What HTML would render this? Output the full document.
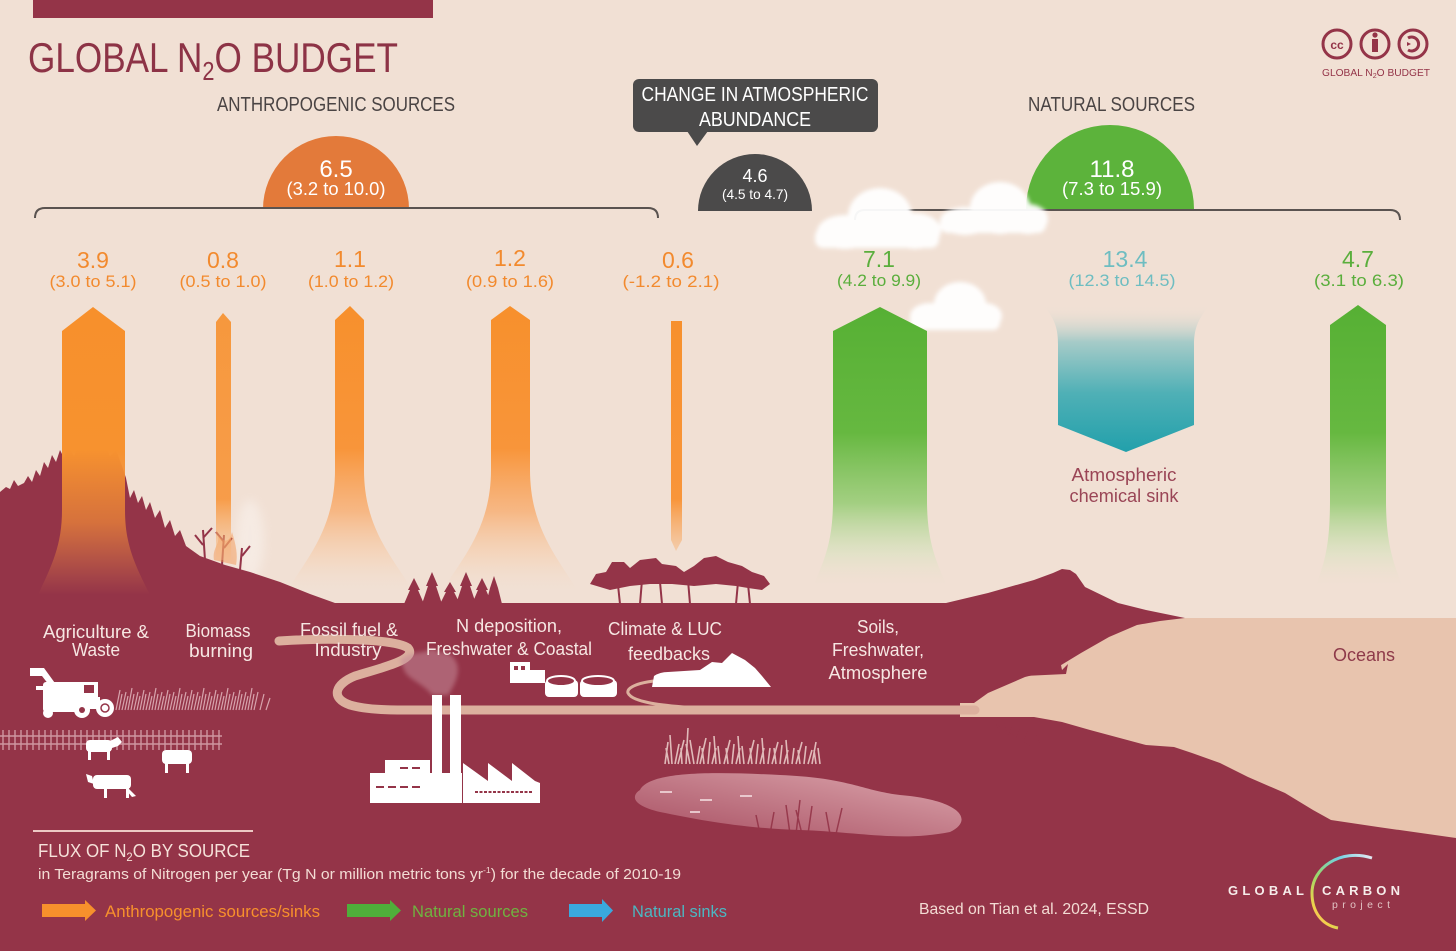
<!DOCTYPE html>
<html><head><meta charset="utf-8"><style>
html,body{margin:0;padding:0;background:#f1e0d4;}
svg{display:block;}
text{font-family:"Liberation Sans",sans-serif;}
</style></head><body>
<svg width="1456" height="951" viewBox="0 0 1456 951" xmlns="http://www.w3.org/2000/svg">
<defs>
  <linearGradient id="gOr" gradientUnits="userSpaceOnUse" x1="0" y1="305" x2="0" y2="592">
    <stop offset="0" stop-color="#f7902c"/>
    <stop offset="0.5" stop-color="#f8953a"/>
    <stop offset="0.72" stop-color="#f8ad70" stop-opacity="0.8"/>
    <stop offset="0.9" stop-color="#f6cfae" stop-opacity="0.4"/>
    <stop offset="1" stop-color="#f2dccb" stop-opacity="0"/>
  </linearGradient>
  <linearGradient id="gOr1" gradientUnits="userSpaceOnUse" x1="0" y1="305" x2="0" y2="595">
    <stop offset="0" stop-color="#f7902c"/>
    <stop offset="0.5" stop-color="#f7922f"/>
    <stop offset="0.75" stop-color="#ec8638" stop-opacity="0.75"/>
    <stop offset="1" stop-color="#e88a4a" stop-opacity="0"/>
  </linearGradient>
  <linearGradient id="gOr2" gradientUnits="userSpaceOnUse" x1="0" y1="310" x2="0" y2="580">
    <stop offset="0" stop-color="#f7902c"/>
    <stop offset="0.7" stop-color="#f8953a"/>
    <stop offset="1" stop-color="#f6c9a4" stop-opacity="0.2"/>
  </linearGradient>
  <linearGradient id="gGr" gradientUnits="userSpaceOnUse" x1="0" y1="305" x2="0" y2="588">
    <stop offset="0" stop-color="#56b034"/>
    <stop offset="0.45" stop-color="#66b840"/>
    <stop offset="0.7" stop-color="#9acd78" stop-opacity="0.9"/>
    <stop offset="0.88" stop-color="#d3e3bb" stop-opacity="0.5"/>
    <stop offset="1" stop-color="#efe2d0" stop-opacity="0"/>
  </linearGradient>
  <linearGradient id="gTeal" gradientUnits="userSpaceOnUse" x1="0" y1="305" x2="0" y2="452">
    <stop offset="0" stop-color="#f1e0d4" stop-opacity="0"/>
    <stop offset="0.25" stop-color="#a6cbc8"/>
    <stop offset="0.6" stop-color="#4fb0b6"/>
    <stop offset="1" stop-color="#22a0ab"/>
  </linearGradient>
  <linearGradient id="gPond" x1="1" y1="0" x2="0" y2="1">
    <stop offset="0" stop-color="#dca6ad"/>
    <stop offset="1" stop-color="#a84f62"/>
  </linearGradient>
  <linearGradient id="gArc" x1="1" y1="0" x2="0" y2="1">
    <stop offset="0" stop-color="#e9e9f2"/>
    <stop offset="0.3" stop-color="#6fd0e0"/>
    <stop offset="0.6" stop-color="#9ad86a"/>
    <stop offset="0.85" stop-color="#f3d04a"/>
    <stop offset="1" stop-color="#f08aa8"/>
  </linearGradient>
  <filter id="bl" x="-20%" y="-20%" width="140%" height="140%"><feGaussianBlur stdDeviation="2.2"/></filter>
  <filter id="bl5" x="-30%" y="-30%" width="160%" height="160%"><feGaussianBlur stdDeviation="5"/></filter>
</defs>

<rect width="1456" height="951" fill="#f1e0d4"/>
<rect x="33" y="0" width="400" height="18" fill="#943448"/>

<!-- Title -->
<text x="28" y="72" font-size="42" fill="#8d3346" textLength="370" lengthAdjust="spacingAndGlyphs">GLOBAL N<tspan font-size="26" dy="8">2</tspan><tspan dy="-8">O BUDGET</tspan></text>
<text x="217" y="111" font-size="20" fill="#4a4444" textLength="238" lengthAdjust="spacingAndGlyphs">ANTHROPOGENIC SOURCES</text>
<text x="1028" y="111" font-size="20" fill="#4a4444" textLength="167" lengthAdjust="spacingAndGlyphs">NATURAL SOURCES</text>

<!-- CC icons -->
<g fill="none" stroke="#943448" stroke-width="3">
  <circle cx="1337" cy="44" r="14"/>
  <circle cx="1375" cy="44" r="14"/>
  <circle cx="1413" cy="44" r="14"/>
  <path d="M1408,38 A7,7 0 1 1 1408,50"/>
</g>
<text x="1337" y="49" font-size="12" font-weight="bold" fill="#943448" text-anchor="middle">cc</text>
<circle cx="1375" cy="35" r="2.6" fill="#943448"/>
<rect x="1372" y="39" width="6" height="13" fill="#943448"/>
<path d="M1407,42 L1411,44 L1407,46 Z" fill="#943448"/>
<text x="1322" y="76" font-size="10" fill="#943448" textLength="108" lengthAdjust="spacingAndGlyphs">GLOBAL N<tspan font-size="7" dy="2">2</tspan><tspan dy="-2">O BUDGET</tspan></text>

<!-- Callout -->
<rect x="633" y="79" width="245" height="53" rx="6" fill="#4b4a4a"/>
<path d="M687,131 L708,131 L697,146 Z" fill="#4b4a4a"/>
<text x="755" y="101" font-size="20" fill="#ffffff" text-anchor="middle" textLength="227" lengthAdjust="spacingAndGlyphs">CHANGE IN ATMOSPHERIC</text>
<text x="755" y="126" font-size="20" fill="#ffffff" text-anchor="middle" textLength="112" lengthAdjust="spacingAndGlyphs">ABUNDANCE</text>

<!-- Semicircles -->
<path d="M698,211 A57,57 0 0 1 812,211 Z" fill="#4b4a4a"/>
<text x="755" y="182" font-size="18" fill="#fff" text-anchor="middle">4.6</text>
<text x="755" y="199" font-size="14" fill="#fff" text-anchor="middle" textLength="66" lengthAdjust="spacingAndGlyphs">(4.5 to 4.7)</text>

<path d="M263,209 A73,73 0 0 1 409,209 Z" fill="#e37a3a"/>
<text x="336" y="177" font-size="24" fill="#fff" text-anchor="middle">6.5</text>
<text x="336" y="195" font-size="18" fill="#fff" text-anchor="middle" textLength="99" lengthAdjust="spacingAndGlyphs">(3.2 to 10.0)</text>

<path d="M1026,209 A84,84 0 0 1 1194,209 Z" fill="#5cb33b"/>
<text x="1112" y="177" font-size="24" fill="#fff" text-anchor="middle">11.8</text>
<text x="1112" y="195" font-size="18" fill="#fff" text-anchor="middle" textLength="100" lengthAdjust="spacingAndGlyphs">(7.3 to 15.9)</text>

<!-- Brackets -->
<g fill="none" stroke="#5a5350" stroke-width="2">
  <path d="M35,218 Q35,208 45,208 L648,208 Q658,208 658,218"/>
  <path d="M855,220 Q855,210 865,210 L1390,210 Q1400,210 1400,220"/>
</g>

<!-- Clouds -->
<g fill="#ffffff" filter="url(#bl)" opacity="0.95">
  <ellipse cx="880" cy="216" rx="32" ry="28"/>
  <ellipse cx="845" cy="232" rx="28" ry="17"/>
  <ellipse cx="915" cy="231" rx="26" ry="18"/>
  <rect x="815" y="228" width="124" height="20" rx="8"/>
  <ellipse cx="1000" cy="208" rx="30" ry="26"/>
  <ellipse cx="965" cy="221" rx="25" ry="14"/>
  <ellipse cx="1028" cy="219" rx="20" ry="15"/>
  <rect x="940" y="215" width="106" height="18" rx="8"/>
  <ellipse cx="960" cy="304" rx="26" ry="22"/>
  <ellipse cx="930" cy="316" rx="20" ry="13"/>
  <ellipse cx="985" cy="316" rx="17" ry="13"/>
  <rect x="910" y="312" width="90" height="18" rx="7"/>
</g>

<!-- Number labels -->
<g font-size="23" text-anchor="middle" fill="#f28a2e">
  <text x="93" y="268">3.9</text>
  <text x="223" y="268">0.8</text>
  <text x="350" y="267">1.1</text>
  <text x="510" y="266">1.2</text>
  <text x="678" y="268">0.6</text>
</g>
<g font-size="17" text-anchor="middle" fill="#f28a2e">
  <text x="93" y="287" textLength="87" lengthAdjust="spacingAndGlyphs">(3.0 to 5.1)</text>
  <text x="223" y="287" textLength="87" lengthAdjust="spacingAndGlyphs">(0.5 to 1.0)</text>
  <text x="351" y="287" textLength="86" lengthAdjust="spacingAndGlyphs">(1.0 to 1.2)</text>
  <text x="510" y="287" textLength="88" lengthAdjust="spacingAndGlyphs">(0.9 to 1.6)</text>
  <text x="671" y="287" textLength="97" lengthAdjust="spacingAndGlyphs">(-1.2 to 2.1)</text>
</g>
<g font-size="23" text-anchor="middle">
  <text x="879" y="267" fill="#5aae3c">7.1</text>
  <text x="1125" y="267" fill="#6ebdc1">13.4</text>
  <text x="1358" y="267" fill="#5aae3c">4.7</text>
</g>
<g font-size="17" text-anchor="middle">
  <text x="879" y="286" fill="#5aae3c" textLength="84" lengthAdjust="spacingAndGlyphs">(4.2 to 9.9)</text>
  <text x="1122" y="286" fill="#6ebdc1" textLength="107" lengthAdjust="spacingAndGlyphs">(12.3 to 14.5)</text>
  <text x="1359" y="286" fill="#5aae3c" textLength="90" lengthAdjust="spacingAndGlyphs">(3.1 to 6.3)</text>
</g>

<!-- Teal sink -->
<path d="M1043,305 L1210,305 C1197,320 1194,330 1194,345 L1194,425 L1126,452 L1058,425 L1058,345 C1058,330 1056,320 1043,305 Z" fill="url(#gTeal)"/>
<text x="1124" y="481" font-size="18" fill="#9a4556" text-anchor="middle" textLength="105" lengthAdjust="spacingAndGlyphs">Atmospheric</text>
<text x="1124" y="502" font-size="18" fill="#9a4556" text-anchor="middle" textLength="109" lengthAdjust="spacingAndGlyphs">chemical sink</text>

<!-- Arrows behind land -->
<path d="M335,320 L350,306 L364,320 L364,470 C364,530 395,560 412,590 L288,590 C305,560 335,530 335,470 Z" fill="url(#gOr)"/>
<path d="M491,320 L510,306 L530,320 L530,470 C530,530 560,560 578,592 L442,592 C460,560 491,530 491,470 Z" fill="url(#gOr)"/>
<path d="M671,321 L682,321 L682,540 L676,551 L671,540 Z" fill="url(#gOr2)"/>
<path d="M833,331 L880,307 L927,331 L927,500 C927,540 935,560 948,588 L812,588 C825,560 833,540 833,500 Z" fill="url(#gGr)"/>
<path d="M1330,325 L1358,305 L1386,325 L1386,500 C1386,540 1392,560 1402,585 L1316,585 C1326,560 1330,540 1330,500 Z" fill="url(#gGr)"/>

<ellipse cx="250" cy="540" rx="14" ry="40" fill="#ffffff" opacity="0.35" filter="url(#bl5)"/>

<!-- Land -->
<path fill="#943448" d="M0,951 L0,492 L6,487 L10,489 L14,480 L18,486 L24,483 L28,476 L32,482 L36,470 L40,476 L44,462 L48,468 L52,455 L56,462 L60,450 L64,458 L68,446 L74,456 L80,442 L86,452 L92,440 L98,450 L104,444 L110,456 L116,450 L122,466 L126,478 L130,498 L134,490 L138,503 L142,496 L146,510 L150,502 L155,518 L160,510 L165,528 L170,520 L175,536 L180,530 L186,546 L200,556 L225,565 L250,572 L280,582 L310,594 L335,603 L946,603 L988,593 L1034,580 L1053,573 L1062,569 L1070,570 L1076,574 L1085,587 L1118,603 L1146,610 L1185,618 L1456,618 L1456,951 Z"/>

<!-- burnt trees -->
<g stroke="#943448" stroke-width="2" fill="none">
  <path d="M205,560 L203,530 M203,545 L195,535 M203,538 L212,528"/>
  <path d="M222,565 L224,535 M224,548 L232,538 M224,542 L216,532"/>
  <path d="M240,570 L242,548 M242,556 L250,546"/>
</g>
<path d="M214,560 C212,548 220,545 218,535 C226,545 230,540 232,532 C236,545 238,555 236,565 Z" fill="#f3904a" opacity="0.45"/>

<!-- conifers -->
<path fill="#943448" d="M404,604 L410,590 L408,590 L414,578 L420,590 L418,590 L424,604 Z M422,604 L428,586 L426,586 L432,572 L438,586 L436,586 L442,604 Z M440,604 L446,592 L444,592 L450,582 L456,592 L454,592 L460,604 Z M456,604 L462,586 L460,586 L466,572 L472,586 L470,586 L476,604 Z M472,604 L478,590 L476,590 L482,578 L488,590 L486,590 L492,604 Z M486,604 L490,588 L494,576 L498,588 L502,604 Z"/>

<!-- deciduous trees -->
<g fill="#943448">
  <path d="M590,584 L596,574 L606,572 L612,562 L624,562 L630,568 L640,560 L656,558 L662,564 L676,566 L684,572 L694,566 L704,558 L716,556 L728,562 L742,566 L752,572 L764,576 L770,584 L762,590 L748,588 L736,586 L716,584 L694,586 L672,584 L650,584 L630,586 L610,590 Z"/>
</g>
<g stroke="#943448" stroke-width="2">
  <path d="M618,585 L620,604 M642,580 L640,604 M688,580 L690,604 M738,582 L736,604 M748,584 L750,604 M660,582 L662,604"/>
</g>

<!-- Arrow 1 and 2 on top of hill -->
<path d="M62,331 L93,307 L125,331 L125,510 C125,545 135,565 150,595 L38,595 C52,565 62,545 62,510 Z" fill="url(#gOr1)"/>
<path d="M216,322 L223,313 L231,322 L231,560 L216,560 Z" fill="url(#gOr2)" opacity="0.9"/>

<!-- Ocean -->
<path fill="#e8c4ae" d="M1185,618 L1456,618 L1456,838 L1378,827 L1331,820 L1313,810 L1285,793 L1248,777 L1220,763 L1192,753 L1174,747 L1146,745 L1090,730 L1062,722 L1034,717 L960,717 L960,703 L974,703 L988,693 L1025,677 L1053,670 L1081,653 L1109,637 L1137,625 L1160,621 Z"/>

<!-- grass tufts at coast -->
<path fill="#943448" d="M1024,676 L1030,664 L1032,672 L1036,658 L1040,670 L1044,654 L1047,668 L1052,656 L1055,668 L1060,660 L1062,670 L1068,664 L1066,674 Z"/>
<path fill="#943448" d="M996,724 L1000,734 L1004,722 L1008,736 L1012,726 L1016,738 L1020,728 L1024,740 L1028,730 L1032,742 L1036,734 L1040,744 L1030,746 Z"/>

<!-- River -->
<path d="M279,641 C320,638 395,638 408,648 C418,660 380,668 355,676 C335,684 330,698 350,705 C370,711 400,710 430,710 L975,710" fill="none" stroke="#dcb09e" stroke-width="9" stroke-linecap="round"/>
<path d="M700,682 C660,676 625,684 628,693 C632,702 660,706 700,708" fill="none" stroke="#dcb09e" stroke-width="3"/>

<!-- Pond -->
<path d="M640,790 C650,770 720,772 780,775 C850,778 860,790 900,795 C960,800 975,820 950,832 C900,842 860,832 800,830 C740,828 700,820 660,812 C630,805 632,795 640,790 Z" fill="url(#gPond)"/>
<g stroke="#f4dde0" stroke-width="2" opacity="0.8">
  <path d="M660,792 L672,792 M700,800 L712,800 M740,796 L752,796 M690,812 L700,812"/>
</g>
<g stroke="#943448" stroke-width="1.5" opacity="0.9">
  <path d="M790,834 L786,805 M796,834 L800,800 M802,834 L796,810 M808,834 L812,806 M830,834 L826,812 M836,834 L842,808 M760,834 L756,815 M770,834 L774,812"/>
</g>

<!-- marsh grass -->
<g stroke="#f3dcd6" stroke-width="1.6" opacity="0.8">
  <path d="M665,764 L668,742 M669,764 L666,748 M672,764 L670,735 M675,764 L679,744 M678,764 L684,740 M682,764 L681,748 M686,764 L688,728 M690,764 L686,744 M694,764 L690,740 M697,764 L700,746 M700,764 L706,738 M704,764 L702,748 M708,764 L710,742 M712,764 L716,748 M716,764 L714,736 M720,764 L718,746 M724,764 L730,740 M728,764 L726,748 M732,764 L734,744 M736,764 L740,748 M740,764 L738,736 M744,764 L742,746 M748,764 L754,740 M752,764 L750,748 M756,764 L758,744 M760,764 L764,748 M764,764 L762,738 M768,764 L770,748 M772,764 L778,742 M776,764 L774,748 M780,764 L782,745 M784,764 L788,750 M788,764 L786,740 M792,764 L794,748 M796,764 L802,742 M800,764 L798,750 M804,764 L806,746 M808,764 L812,750 M812,764 L816,742 M816,764 L814,750 M820,764 L818,748"/>
</g>

<!-- smoke plume -->
<path d="M400,660 C410,650 425,655 432,648 C440,655 450,650 455,660 C462,670 455,685 448,695 L432,695 C425,685 410,680 405,672 Z" fill="#c48a98" opacity="0.55" filter="url(#bl)"/>

<!-- Factory -->
<g fill="#ffffff">
  <rect x="432" y="695" width="10" height="90"/>
  <rect x="450" y="695" width="11" height="90"/>
  <rect x="385" y="760" width="45" height="15"/>
  <rect x="370" y="773" width="92" height="30"/>
  <path d="M463,803 L463,763 L488,781 L488,763 L512,781 L512,763 L535,781 L540,783 L540,803 Z"/>
</g>
<g stroke="#943448" stroke-width="2">
  <path d="M400,768 L408,768 M412,768 L420,768 M376,787 L384,787 M388,787 L396,787 M400,787 L408,787 M412,787 L420,787"/>
  <path d="M475,792 L532,792" stroke-dasharray="3,1.5"/>
</g>

<!-- Water treatment -->
<g fill="#ffffff">
  <rect x="510" y="662" width="20" height="21"/>
  <rect x="530" y="670" width="15" height="13"/>
  <rect x="545" y="680" width="33" height="17" rx="4"/>
  <rect x="580" y="680" width="37" height="17" rx="4"/>
</g>
<rect x="514" y="666" width="4" height="4" fill="#943448"/>
<rect x="521" y="666" width="4" height="4" fill="#943448"/>
<ellipse cx="561" cy="681" rx="14" ry="5" fill="#943448" stroke="#fff" stroke-width="2"/>
<ellipse cx="598" cy="681" rx="16" ry="5" fill="#943448" stroke="#fff" stroke-width="2"/>

<!-- Shed -->
<path fill="#ffffff" d="M652,687 L654,676 Q660,672 668,672 L700,670 L712,662 L722,663 L732,653 L745,660 L755,668 L762,676 L771,687 Z"/>

<!-- Harvester -->
<g fill="#ffffff">
  <path d="M30,668 L44,668 L60,690 L56,694 L42,676 L30,676 Z"/>
  <rect x="36" y="686" width="14" height="4"/>
  <rect x="43" y="682" width="46" height="30" rx="3"/>
  <rect x="80" y="682" width="18" height="16"/>
  <rect x="86" y="697" width="14" height="12"/>
  <circle cx="48" cy="713" r="5"/>
  <circle cx="82" cy="710" r="8"/>
  <circle cx="105" cy="708" r="9"/>
</g>
<circle cx="82" cy="710" r="3" fill="#943448"/>
<circle cx="105" cy="708" r="4" fill="none" stroke="#943448" stroke-width="1.5"/>
<rect x="84" y="685" width="10" height="8" fill="#943448"/>

<!-- crops -->
<g stroke="#e8bfc6" stroke-width="1.2" opacity="0.8">
  <path d="M116,710 L120,690 M119,710 L122,694 M122,710 L126,692 M125,710 L128,696 M128,710 L132,688 M131,710 L134,694 M134,710 L138,692 M137,710 L140,696 M140,710 L144,690 M143,710 L146,694 M146,710 L150,692 M149,710 L152,696 M152,710 L156,688 M155,710 L158,694 M158,710 L162,692 M161,710 L164,696 M164,710 L168,690 M167,710 L170,694 M170,710 L174,692 M173,710 L176,696 M176,710 L180,688 M179,710 L182,694 M182,710 L186,692 M185,710 L188,696 M188,710 L192,690 M191,710 L194,694 M194,710 L198,692 M197,710 L200,696 M200,710 L204,688 M203,710 L206,694 M206,710 L210,692 M209,710 L212,696 M212,710 L216,690 M215,710 L218,694 M218,710 L222,692 M221,710 L224,696 M224,710 L228,688 M227,710 L230,694 M230,710 L234,692 M233,710 L236,696 M236,710 L240,690 M239,710 L242,694 M242,710 L246,692 M245,710 L248,696 M248,710 L252,688 M251,710 L254,694 M254,710 L258,692 M260,710 L264,694 M266,710 L270,698"/>
</g>
<!-- fence -->
<g stroke="#e8bfc6" stroke-width="1.4" opacity="0.7">
  <path d="M0,736 L222,736 M0,744 L222,744"/>
  <path d="M3,730 L3,750 M9,730 L9,750 M15,730 L15,750 M21,730 L21,750 M27,730 L27,750 M33,730 L33,750 M39,730 L39,750 M45,730 L45,750 M51,730 L51,750 M57,730 L57,750 M63,730 L63,750 M69,730 L69,750 M75,730 L75,750 M81,730 L81,750 M87,730 L87,750 M93,730 L93,750 M99,730 L99,750 M105,730 L105,750 M111,730 L111,750 M117,730 L117,750 M123,730 L123,750 M129,730 L129,750 M135,730 L135,750 M141,730 L141,750 M147,730 L147,750 M153,730 L153,750 M159,730 L159,750 M165,730 L165,750 M171,730 L171,750 M177,730 L177,750 M183,730 L183,750 M189,730 L189,750 M195,730 L195,750 M201,730 L201,750 M207,730 L207,750 M213,730 L213,750 M219,730 L219,750"/>
</g>
<!-- cows -->
<g fill="#ffffff">
  <rect x="86" y="740" width="26" height="12" rx="4"/>
  <path d="M110,741 L118,737 L122,742 L118,746 L112,748 Z"/>
  <rect x="88" y="750" width="3" height="10"/><rect x="107" y="750" width="3" height="10"/>
  <rect x="162" y="750" width="30" height="14" rx="4"/>
  <rect x="165" y="762" width="3" height="11"/><rect x="186" y="762" width="3" height="11"/>
  <rect x="93" y="775" width="38" height="14" rx="4"/>
  <path d="M92,776 L86,774 L88,782 L94,784 Z"/>
  <rect x="104" y="787" width="3" height="11"/><rect x="126" y="787" width="3" height="11"/>
  <path d="M128,788 L136,796 L132,797 L126,790 Z"/>
</g>

<!-- Landscape labels -->
<g font-size="18" fill="#f6e6e2" text-anchor="middle">
  <text x="96" y="638" textLength="106" lengthAdjust="spacingAndGlyphs">Agriculture &amp;</text>
  <text x="96" y="656" textLength="48" lengthAdjust="spacingAndGlyphs">Waste</text>
  <text x="218" y="637" textLength="65" lengthAdjust="spacingAndGlyphs">Biomass</text>
  <text x="221" y="657" textLength="64" lengthAdjust="spacingAndGlyphs">burning</text>
  <text x="349" y="636" textLength="98" lengthAdjust="spacingAndGlyphs">Fossil fuel &amp;</text>
  <text x="348" y="656" textLength="67" lengthAdjust="spacingAndGlyphs">Industry</text>
  <text x="509" y="632" textLength="106" lengthAdjust="spacingAndGlyphs">N deposition,</text>
  <text x="509" y="655" textLength="166" lengthAdjust="spacingAndGlyphs">Freshwater &amp; Coastal</text>
  <text x="665" y="635" textLength="114" lengthAdjust="spacingAndGlyphs">Climate &amp; LUC</text>
  <text x="669" y="660" textLength="82" lengthAdjust="spacingAndGlyphs">feedbacks</text>
  <text x="878" y="633" textLength="42" lengthAdjust="spacingAndGlyphs">Soils,</text>
  <text x="878" y="656" textLength="92" lengthAdjust="spacingAndGlyphs">Freshwater,</text>
  <text x="878" y="679" textLength="99" lengthAdjust="spacingAndGlyphs">Atmosphere</text>
</g>
<text x="1364" y="661" font-size="18" fill="#8e3a4a" text-anchor="middle" textLength="62" lengthAdjust="spacingAndGlyphs">Oceans</text>

<!-- Legend -->
<rect x="33" y="830" width="220" height="2" fill="#ecc9c4"/>
<text x="38" y="857" font-size="18" fill="#f6e2da" textLength="212" lengthAdjust="spacingAndGlyphs">FLUX OF N<tspan font-size="12" dy="4">2</tspan><tspan dy="-4">O BY SOURCE</tspan></text>
<text x="38" y="879" font-size="14.5" fill="#f3dcd4" textLength="643" lengthAdjust="spacingAndGlyphs">in Teragrams of Nitrogen per year (Tg N or million metric tons yr<tspan font-size="8" dy="-6">-1</tspan><tspan dy="6">) for the decade of 2010-19</tspan></text>

<path d="M42,904 L85,904 L85,900 L96,910.5 L85,921 L85,917 L42,917 Z" fill="#f7902c"/>
<text x="105" y="917" font-size="17" fill="#f7902c" textLength="215" lengthAdjust="spacingAndGlyphs">Anthropogenic sources/sinks</text>
<path d="M347,904 L390,904 L390,900 L401,910.5 L390,921 L390,917 L347,917 Z" fill="#4fae3a"/>
<text x="412" y="917" font-size="17" fill="#6fb340" textLength="116" lengthAdjust="spacingAndGlyphs">Natural sources</text>
<path d="M569,904 L602,904 L602,899 L613,910.5 L602,922 L602,917 L569,917 Z" fill="#3aa9de"/>
<text x="632" y="917" font-size="17" fill="#4bb7c2" textLength="95" lengthAdjust="spacingAndGlyphs">Natural sinks</text>

<text x="919" y="914" font-size="16" fill="#f3dcd4" textLength="230" lengthAdjust="spacingAndGlyphs">Based on Tian et al. 2024, ESSD</text>

<!-- Global Carbon Project logo -->
<path d="M1372,858 C1340,848 1312,868 1312,893 C1312,912 1322,925 1338,928" fill="none" stroke="url(#gArc)" stroke-width="3"/>
<text x="1228" y="895" font-size="13" font-weight="bold" fill="#f6ecea" textLength="76" lengthAdjust="spacing">GLOBAL</text>
<text x="1322" y="895" font-size="13" font-weight="bold" fill="#f6ecea" textLength="78" lengthAdjust="spacing">CARBON</text>
<text x="1332" y="908" font-size="10.5" fill="#e2c3c4" textLength="58" lengthAdjust="spacing">project</text>
</svg>
</body></html>
